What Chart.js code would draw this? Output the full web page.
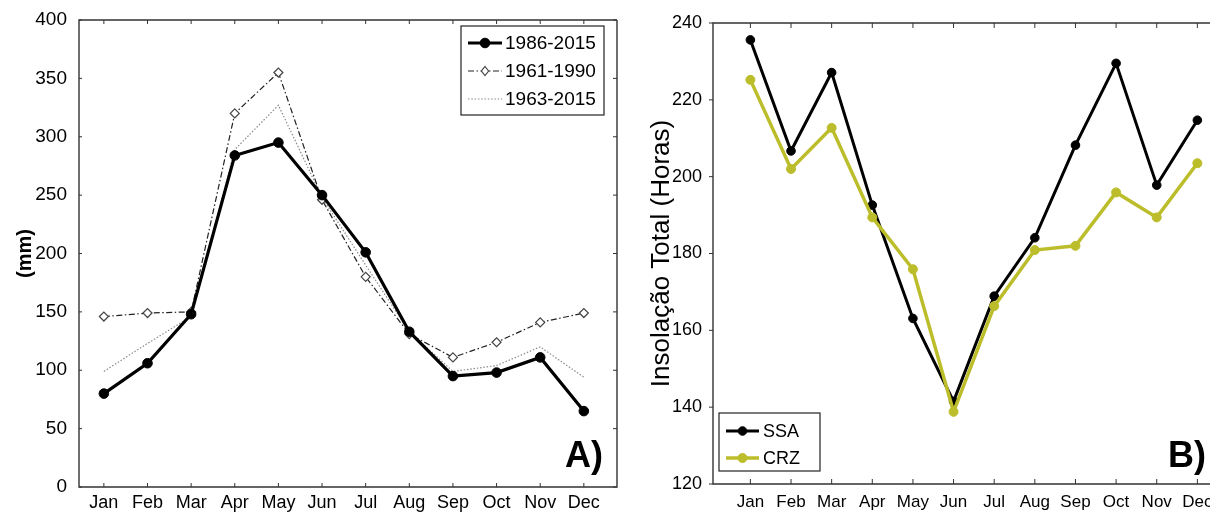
<!DOCTYPE html>
<html><head><meta charset="utf-8">
<script src="https://cdn.jsdelivr.net/npm/chart.js@4/dist/chart.umd.min.js"></script>
<style>
html,body{margin:0;padding:0;background:#fff;overflow:hidden;width:1210px;height:512px;}
#wrap{position:relative;width:1210px;height:512px;overflow:hidden;}
#c1{position:absolute;left:0;top:0;width:640px;height:512px;}
#c2{position:absolute;left:640px;top:0;width:620px;height:512px;}
</style></head><body>
<div id="wrap"><canvas id="c1" width="640" height="512"></canvas><canvas id="c2" width="620" height="512"></canvas></div>
<script>
// ---- data ----
const months = ['Jan','Feb','Mar','Apr','May','Jun','Jul','Aug','Sep','Oct','Nov','Dec'];
const precip_1986_2015 = [80, 106, 148, 284, 295, 250, 201, 133, 95, 98, 111, 65];
const precip_1961_1990 = [146, 149, 150, 320, 355, 246, 180, 131, 111, 124, 141, 149];
const precip_1963_2015 = [99, 123, 146, 289, 327, 248, 190, 133, 99, 104, 120, 94];
const precipTicks = [0, 50, 100, 150, 200, 250, 300, 350, 400];
const insol_SSA = [235.6, 206.7, 227.1, 192.6, 163.1, 141.5, 168.9, 184.1, 208.2, 229.5, 197.8, 214.7];
const insol_CRZ = [225.2, 202.0, 212.7, 189.4, 175.9, 138.8, 166.3, 180.9, 182.0, 195.9, 189.4, 203.5];
const insolTicks = [120, 140, 160, 180, 200, 220, 240];

const FONT = "'Liberation Sans', Arial, Helvetica, sans-serif";
const toXY = arr => arr.map((v, i) => ({x: i + 1, y: v}));
const monthTickValues = months.map((m, i) => ({value: i + 1}));

function decorPlugin(cfg) {
  return {
    id: 'decor_' + cfg.name,
    afterDraw(chart) {
      const ctx = chart.ctx, a = chart.chartArea, xs = chart.scales.x, ys = chart.scales.y;
      ctx.save();
      // frame
      ctx.strokeStyle = '#333';
      ctx.lineWidth = 1.4;
      ctx.beginPath();
      ctx.moveTo(a.right, a.top); ctx.lineTo(a.left, a.top); ctx.lineTo(a.left, a.bottom); ctx.lineTo(a.right, a.bottom);
      if (cfg.rightBorder) ctx.lineTo(a.right, a.top);
      ctx.stroke();
      ctx.lineWidth = 1;
      ctx.beginPath();
      monthTickValues.forEach(t => {
        const px = xs.getPixelForValue(t.value);
        ctx.moveTo(px, a.bottom); ctx.lineTo(px, a.bottom - cfg.tickLen);
        ctx.moveTo(px, a.top); ctx.lineTo(px, a.top + cfg.tickLen);
      });
      cfg.yTicks.forEach(v => {
        const py = ys.getPixelForValue(v);
        if (cfg.yTickOut) { ctx.moveTo(a.left, py); ctx.lineTo(a.left - 4, py); }
        else { ctx.moveTo(a.left, py); ctx.lineTo(a.left + 3, py); }
        if (cfg.rightBorder) { ctx.moveTo(a.right, py); ctx.lineTo(a.right - 4, py); }
      });
      ctx.stroke();
      // y title
      ctx.fillStyle = '#000';
      ctx.save();
      ctx.translate(cfg.titleX, (a.top + a.bottom) / 2);
      ctx.rotate(-Math.PI / 2);
      ctx.textAlign = 'center'; ctx.textBaseline = 'middle';
      ctx.font = cfg.titleFont;
      ctx.fillText(cfg.title, 0, 0);
      ctx.restore();
      // panel letter
      ctx.font = 'bold 36px ' + FONT;
      ctx.textAlign = 'left'; ctx.textBaseline = 'alphabetic';
      ctx.fillText(cfg.letter, a.right + cfg.letterDX, a.bottom + cfg.letterDY);
      // legend
      const L = cfg.legend;
      const bx = L.fromRight ? a.right - L.right - L.w : a.left + L.left;
      const by = L.fromBottom ? a.bottom - L.bottom - L.h : a.top + L.top;
      ctx.fillStyle = '#fff';
      ctx.fillRect(bx, by, L.w, L.h);
      ctx.strokeStyle = '#222'; ctx.lineWidth = 1.2;
      ctx.strokeRect(bx, by, L.w, L.h);
      ctx.font = L.font;
      ctx.textBaseline = 'middle';
      L.items.forEach((idx, k) => {
        const ds = chart.data.datasets[idx];
        const yy = by + L.row0 + k * L.rowGap;
        const x0 = bx + 7, x1 = bx + L.sampleW + 7, xm = (x0 + x1) / 2;
        ctx.save();
        ctx.strokeStyle = ds.borderColor; ctx.lineWidth = ds.borderWidth;
        ctx.setLineDash(ds.borderDash || []);
        ctx.beginPath(); ctx.moveTo(x0, yy); ctx.lineTo(x1, yy); ctx.stroke();
        ctx.setLineDash([]);
        if (ds.pointRadius > 0) {
          ctx.fillStyle = ds.pointBackgroundColor; ctx.strokeStyle = ds.pointBorderColor;
          ctx.lineWidth = ds.pointBorderWidth;
          const r = ds.pointRadius;
          ctx.beginPath();
          if (ds.pointStyle === 'rectRot') {
            ctx.moveTo(xm, yy - r); ctx.lineTo(xm + r * 0.8, yy); ctx.lineTo(xm, yy + r); ctx.lineTo(xm - r * 0.8, yy); ctx.closePath();
          } else {
            ctx.arc(xm, yy, r, 0, Math.PI * 2);
          }
          ctx.fill(); ctx.stroke();
        }
        ctx.restore();
        ctx.fillStyle = '#000';
        ctx.fillText(ds.label, bx + L.textX, yy + 1);
      });
      ctx.restore();
    }
  };
}

function baseOptions(o) {
  return {
    responsive: false, animation: false, devicePixelRatio: 1,
    layout: {padding: {top: o.padTop, right: o.padRight, left: 0, bottom: 0}},
    plugins: {legend: {display: false}, tooltip: {enabled: false}},
    elements: {line: {tension: 0}},
    scales: {
      x: {
        type: 'linear', min: o.xmin, max: o.xmax,
        afterBuildTicks: s => { s.ticks = monthTickValues.map(t => ({value: t.value})); },
        afterFit: s => { s.height = o.xH; },
        grid: {display: false}, border: {display: false},
        ticks: {autoSkip: false, maxRotation: 0, padding: o.xPad, color: '#000',
          font: {family: FONT, size: o.xFont}, callback: v => months[v - 1]}
      },
      y: {
        type: 'linear', min: o.ymin, max: o.ymax,
        afterBuildTicks: s => { s.ticks = o.yTicks.map(v => ({value: v})); },
        afterFit: s => { s.width = o.yW; },
        grid: {display: false}, border: {display: false},
        ticks: {autoSkip: false, padding: o.yPad, color: '#000', font: {family: FONT, size: o.yFont}}
      }
    }
  };
}

// ---- chart A ----
new Chart(document.getElementById('c1'), {
  type: 'line',
  data: {datasets: [
    {label: '1986-2015', data: toXY(precip_1986_2015), borderColor: '#000', borderWidth: 3.2,
      pointRadius: 4.8, pointBackgroundColor: '#000', pointBorderColor: '#000', pointBorderWidth: 1, pointStyle: 'circle'},
    {label: '1961-1990', data: toXY(precip_1961_1990), borderColor: '#222', borderWidth: 1.2, borderDash: [6, 2.5, 1.5, 2.5],
      pointRadius: 4.5, pointStyle: 'rectRot', pointBackgroundColor: '#fff', pointBorderColor: '#444', pointBorderWidth: 1.2},
    {label: '1963-2015', data: toXY(precip_1963_2015), borderColor: '#8a8a8a', borderWidth: 1.2, borderDash: [1.5, 1.8],
      pointRadius: 0}
  ]},
  options: baseOptions({padTop: 20, padRight: 23, xmin: 0.43, xmax: 12.76, xH: 25, xPad: -3, xFont: 18,
    ymin: 0, ymax: 400, yTicks: precipTicks, yW: 79, yPad: 4, yFont: 19}),
  plugins: [decorPlugin({name: 'a', tickLen: 4, yTicks: precipTicks, yTickOut: false, rightBorder: true,
    titleX: 25, title: '(mm)', titleFont: 'bold 20px ' + FONT, letter: 'A)', letterDX: -52, letterDY: -20,
    legend: {fromRight: true, right: 13, top: 6, w: 143, h: 89, row0: 17, rowGap: 28, sampleW: 34, textX: 44,
      font: '19px ' + FONT, items: [0, 1, 2]}})]
});

// ---- chart B ----
new Chart(document.getElementById('c2'), {
  type: 'line',
  data: {datasets: [
    {label: 'SSA', data: toXY(insol_SSA), borderColor: '#000', borderWidth: 3, order: 2,
      pointRadius: 4.3, pointBackgroundColor: '#000', pointBorderColor: '#000', pointBorderWidth: 1, pointStyle: 'circle'},
    {label: 'CRZ', data: toXY(insol_CRZ), borderColor: '#bcbd2b', borderWidth: 3.5, order: 1,
      pointRadius: 4.5, pointBackgroundColor: '#bcbd2b', pointBorderColor: '#bcbd2b', pointBorderWidth: 1, pointStyle: 'circle'}
  ]},
  options: baseOptions({padTop: 23, padRight: 22, xmin: 0.08, xmax: 13, xH: 28, xPad: 0, xFont: 17,
    ymin: 120, ymax: 240, yTicks: insolTicks, yW: 73, yPad: 3, yFont: 18}),
  plugins: [decorPlugin({name: 'b', tickLen: 5, yTicks: insolTicks, yTickOut: true, rightBorder: false,
    titleX: 22, title: 'Insolação Total (Horas)', titleFont: '26px ' + FONT, letter: 'B)', letterDX: -70, letterDY: -17,
    legend: {fromRight: false, fromBottom: true, left: 6, bottom: 13, w: 101, h: 58, row0: 18, rowGap: 27, sampleW: 33, textX: 44,
      font: '18px ' + FONT, items: [0, 1]}})]
});
</script>
</body></html>
